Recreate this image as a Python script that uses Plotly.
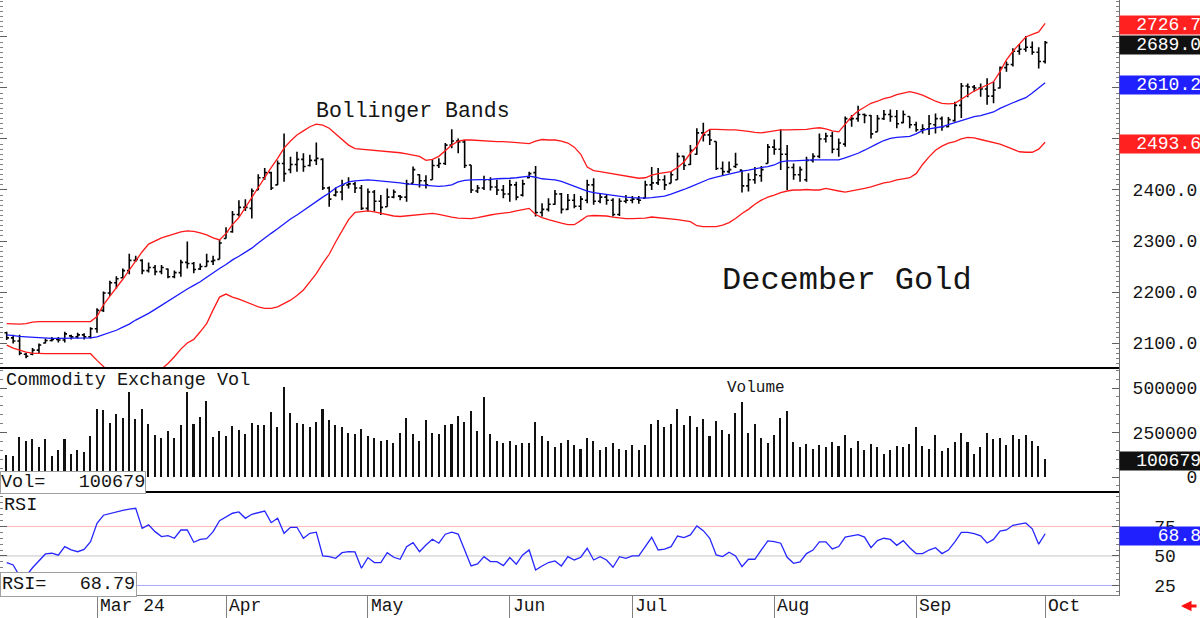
import plotly.graph_objects as go
import pandas as pd

# ---------------- data ----------------
holidays = ["2024-02-19", "2024-03-29", "2024-05-27", "2024-06-19", "2024-07-04", "2024-09-02"]
trade_days = [d for d in pd.bdate_range("2024-02-09", "2024-10-01")
              if d.strftime("%Y-%m-%d") not in holidays]
x_idx = list(range(len(trade_days)))

month_keys = ["2024-03", "2024-04", "2024-05", "2024-06", "2024-07", "2024-08", "2024-09", "2024-10"]
month_labels = ["Mar 24", "Apr", "May", "Jun", "Jul", "Aug", "Sep", "Oct"]

opens = [2120,2110,2104,2078,2078,2086,2100,2105,2107,2106,
         2114,2112,2116,2112,2128,2164,2198,2218,2228,2242,
         2262,2262,2242,2248,2240,2245,2230,2238,2258,2256,
         2245,2250,2260,2264,2305,2318,2352,2366,2364,2400,
         2424,2434,2410,2452,2440,2450,2460,2448,2458,2460,
         2404,2390,2396,2410,2412,2404,2364,2396,2378,2367,
         2386,2388,2386,2413,2430,2418,2420,2448,2452,2488,
         2496,2494,2449,2398,2404,2420,2406,2400,2392,2410,
         2390,2424,2434,2356,2362,2372,2392,2362,2380,2368,
         2380,2410,2378,2386,2380,2352,2378,2380,2382,2384,
         2410,2414,2420,2413,2420,2466,2450,2470,2512,2508,
         2495,2442,2436,2446,2439,2408,2420,2428,2452,2484,
         2480,2470,2444,2430,2420,2458,2466,2500,2506,2480,
         2490,2538,2540,2548,2546,2514,2540,2548,2544,2532,
         2544,2528,2518,2520,2528,2540,2524,2536,2566,2604,
         2602,2600,2598,2584,2600,2640,2646,2672,2676,2680,
         2670,2652]
highs = [2122,2116,2116,2081,2090,2099,2109,2112,2112,2122,
         2116,2120,2119,2131,2168,2201,2222,2231,2246,2275,
         2271,2264,2258,2253,2253,2246,2242,2263,2299,2259,
         2256,2275,2271,2303,2327,2359,2380,2382,2403,2431,
         2443,2436,2458,2511,2465,2475,2472,2469,2493,2462,
         2407,2405,2420,2425,2416,2410,2403,2400,2390,2403,
         2401,2390,2420,2446,2431,2429,2459,2462,2492,2519,
         2501,2498,2449,2410,2428,2425,2420,2410,2420,2416,
         2420,2436,2447,2374,2384,2400,2394,2392,2392,2388,
         2420,2423,2392,2392,2384,2384,2390,2388,2388,2418,
         2445,2443,2429,2436,2473,2467,2488,2521,2532,2519,
         2495,2456,2456,2473,2439,2433,2445,2447,2490,2499,
         2519,2488,2452,2446,2465,2472,2511,2512,2514,2501,
         2544,2547,2565,2550,2547,2547,2557,2558,2557,2556,
         2544,2534,2529,2547,2550,2544,2543,2573,2610,2609,
         2606,2609,2619,2612,2642,2652,2678,2686,2702,2691,
         2680,2692]
lows = [2106,2099,2076,2070,2076,2080,2099,2103,2101,2101,
        2107,2109,2107,2109,2120,2161,2192,2207,2227,2235,
        2259,2235,2238,2233,2235,2227,2227,2230,2246,2237,
        2243,2250,2253,2264,2305,2316,2348,2359,2344,2400,
        2420,2400,2410,2416,2433,2436,2436,2446,2449,2400,
        2367,2387,2380,2403,2394,2361,2358,2358,2351,2367,
        2384,2380,2377,2413,2405,2403,2420,2443,2449,2482,
        2472,2443,2394,2394,2400,2399,2390,2384,2377,2380,
        2387,2423,2348,2348,2358,2371,2354,2361,2364,2361,
        2374,2371,2374,2371,2348,2349,2374,2374,2373,2384,
        2400,2410,2400,2413,2420,2439,2449,2469,2495,2488,
        2439,2429,2433,2443,2395,2397,2412,2416,2452,2469,
        2439,2400,2420,2416,2416,2454,2462,2493,2472,2465,
        2485,2524,2534,2531,2501,2514,2537,2534,2521,2531,
        2521,2514,2511,2508,2511,2516,2523,2534,2541,2582,
        2593,2583,2567,2570,2599,2632,2642,2665,2671,2665,
        2638,2648]
closes = [2110,2104,2080,2074,2086,2096,2105,2107,2106,2118,
          2112,2116,2112,2128,2164,2198,2218,2226,2242,2262,
          2264,2242,2248,2240,2248,2230,2238,2258,2256,2244,
          2250,2260,2262,2296,2318,2352,2366,2366,2398,2424,
          2434,2404,2452,2432,2450,2460,2446,2458,2462,2404,
          2382,2396,2410,2412,2404,2364,2396,2378,2366,2386,
          2396,2386,2412,2440,2418,2410,2448,2452,2488,2496,
          2494,2448,2400,2404,2420,2406,2400,2392,2410,2386,
          2412,2432,2356,2362,2372,2392,2362,2380,2368,2382,
          2410,2378,2386,2380,2352,2378,2380,2382,2380,2410,
          2414,2420,2410,2430,2466,2448,2478,2512,2508,2498,
          2442,2436,2440,2450,2408,2420,2430,2440,2484,2480,
          2470,2444,2430,2440,2458,2466,2500,2506,2480,2492,
          2540,2540,2548,2546,2510,2540,2548,2544,2530,2548,
          2528,2518,2520,2530,2540,2524,2538,2566,2604,2602,
          2600,2598,2584,2596,2640,2646,2672,2676,2680,2670,
          2652,2689]

bb_mid = [2116,2114,2113,2112,2111,2110,2110,2109,2109,2109,
          2109,2110,2110,2110,2112,2116,2120,2125,2131,2137,
          2145,2151,2158,2166,2174,2182,2190,2199,2206,2213,
          2220,2229,2238,2246,2254,2263,2270,2278,2286,2296,
          2306,2315,2324,2334,2343,2351,2360,2368,2377,2386,
          2394,2404,2410,2416,2418,2419,2420,2419,2418,2417,
          2416,2414,2412,2411,2410,2408,2407,2407,2408,2410,
          2416,2419,2420,2420,2421,2421,2422,2422,2423,2424,
          2426,2427,2425,2422,2421,2420,2417,2412,2408,2403,
          2398,2395,2393,2391,2389,2387,2386,2385,2384,2384,
          2385,2386,2388,2392,2396,2401,2406,2411,2417,2422,
          2425,2428,2431,2435,2437,2439,2442,2444,2446,2449,
          2455,2457,2457,2458,2459,2459,2459,2459,2459,2459,
          2463,2467,2472,2478,2485,2491,2497,2501,2503,2504,
          2505,2510,2517,2520,2522,2524,2528,2532,2536,2540,
          2544,2546,2549,2553,2560,2566,2571,2576,2581,2590,
          2600,2610.2]
bb_upper = [2138,2137,2137,2138,2141,2142,2142,2142,2142,2142,
            2142,2142,2142,2142,2152,2175,2192,2208,2225,2243,
            2262,2279,2294,2300,2306,2310,2314,2318,2320,2319,
            2316,2312,2306,2302,2315,2332,2346,2366,2386,2406,
            2426,2444,2462,2482,2496,2508,2516,2524,2529,2527,
            2521,2510,2498,2488,2481,2480,2478,2477,2476,2475,
            2474,2473,2471,2469,2466,2458,2460,2466,2478,2488,
            2496,2498,2498,2497,2497,2496,2495,2495,2494,2493,
            2492,2491,2496,2499,2498,2498,2496,2492,2484,2470,
            2445,2438,2436,2434,2432,2430,2428,2425,2423,2424,
            2429,2432,2434,2436,2444,2455,2472,2486,2510,2519,
            2519,2518,2518,2518,2517,2515,2513,2512,2514,2516,
            2518,2518,2518,2518,2519,2521,2522,2520,2516,2514,
            2530,2544,2555,2563,2570,2574,2579,2582,2587,2590,
            2593,2590,2586,2580,2574,2570,2569,2570,2578,2586,
            2594,2600,2606,2612,2632,2655,2672,2686,2700,2705,
            2710,2726.7]
bb_lower = [2096,2090,2086,2082,2080,2079,2079,2079,2079,2079,
            2079,2079,2079,2079,2066,2054,2042,2034,2028,2022,
            2020,2020,2024,2034,2049,2060,2073,2088,2100,2107,
            2122,2138,2165,2190,2196,2190,2186,2181,2177,2171,
            2168,2168,2171,2178,2184,2193,2204,2220,2236,2256,
            2274,2298,2320,2342,2356,2358,2359,2357,2354,2351,
            2349,2348,2349,2350,2351,2353,2354,2352,2349,2347,
            2345,2344,2344,2346,2349,2351,2353,2354,2356,2359,
            2362,2364,2352,2346,2342,2338,2335,2332,2332,2340,
            2349,2350,2350,2349,2347,2345,2344,2344,2344,2345,
            2347,2346,2345,2344,2342,2340,2338,2330,2328,2328,
            2328,2331,2336,2344,2354,2362,2372,2380,2386,2390,
            2395,2398,2400,2400,2401,2400,2400,2403,2400,2398,
            2396,2398,2400,2403,2406,2410,2414,2416,2420,2422,
            2424,2432,2450,2465,2478,2486,2492,2495,2500,2503,
            2502,2499,2496,2493,2490,2485,2480,2475,2474,2474,
            2480,2493.6]

volume = [124000,120000,223000,202000,212000,167000,212000,120000,152000,215000,
          129000,152000,139000,232000,380000,376000,305000,354000,330000,479000,
          324000,380000,298000,236000,217000,260000,217000,290000,479000,296000,
          335000,429000,227000,260000,230000,287000,264000,242000,305000,292000,
          292000,363000,283000,507000,358000,305000,300000,280000,310000,380000,
          320000,290000,280000,250000,240000,270000,230000,220000,200000,210000,
          190000,250000,330000,240000,200000,320000,250000,240000,290000,300000,
          340000,310000,370000,260000,450000,240000,200000,190000,200000,180000,
          190000,190000,310000,230000,200000,170000,190000,210000,180000,160000,
          220000,200000,150000,170000,190000,160000,150000,180000,150000,180000,
          300000,320000,280000,300000,380000,290000,340000,280000,326000,230000,
          316000,264000,242000,361000,421000,249000,298000,221000,189000,236000,
          330000,371000,195000,170000,185000,157000,180000,167000,195000,174000,
          236000,163000,202000,152000,185000,170000,129000,152000,174000,170000,
          185000,283000,174000,157000,234000,146000,161000,198000,245000,195000,
          129000,167000,245000,212000,219000,180000,236000,212000,236000,202000,
          174000,100679]

rsi = [44.3,42.4,33.0,33.0,40.0,46.0,51.7,52.3,50.6,57.9,
       55.1,53.6,55.6,62.1,77.7,84.5,86.0,87.5,88.6,89.6,
       90.4,73.4,76.3,70.6,66.4,67.2,65.0,72.0,72.0,61.6,
       64.1,64.7,70.6,79.9,83.3,86.2,87.3,81.9,85.3,86.5,
       88.1,78.2,81.9,69.2,74.3,74.3,65.0,69.2,70.1,50.0,
       49.4,48.0,52.8,53.6,53.4,39.6,48.6,44.4,44.4,52.8,
       48.9,47.2,57.9,61.3,53.6,59.3,64.1,60.8,68.4,70.1,
       68.6,55.1,41.5,43.2,49.4,45.2,45.2,41.8,48.6,43.0,
       50.8,55.1,38.1,41.5,44.4,45.8,41.5,49.4,46.6,48.9,
       56.5,46.6,49.4,46.6,40.4,49.4,48.0,50.0,50.0,57.9,
       65.8,55.1,55.7,57.9,66.9,65.5,67.8,75.4,71.4,65.0,
       50.8,49.4,53.1,50.0,40.9,47.2,47.2,55.1,62.7,62.1,
       60.8,48.9,43.8,45.0,52.0,55.0,62.0,62.0,56.0,58.0,
       66.0,67.0,68.0,66.0,57.0,63.0,65.0,64.0,59.0,63.0,
       57.0,52.0,52.0,55.0,57.0,52.0,55.0,62.0,70.0,70.0,
       69.0,67.0,61.0,64.0,71.0,72.0,76.0,77.0,78.0,73.0,
       60.0,68.79]

price_ticks = [2100, 2200, 2300, 2400, 2500, 2600, 2700]
price_tick_text = ["2100.0", "2200.0", "2300.0", "2400.0", "", "", ""]  # upper ones hidden by value tags
vol_ticks = [0, 250000, 500000]
vol_tick_text = ["\u00a0\u00a0\u00a0\u00a0\u00a00", "250000", "500000"]
rsi_ticks = [25, 50, 75]
rsi_tick_text = ["\u00a0\u00a025", "\u00a0\u00a050", "\u00a0\u00a075"]

# ---------------- layout helpers ----------------
W, H = 1200, 618
MR, MB = 81, 23
PW, PH = W - MR, H - MB
FONT = "Liberation Mono"
TXT = "#151515"
AXFS = 18

def pxx(x):
    return x / PW

def pyy(y):
    return (PH - y) / PH

month_pos = [next(i for i, d in enumerate(trade_days) if d.strftime("%Y-%m") == k) for k in month_keys]

fig = go.Figure()
fig.add_trace(go.Scatter(x=x_idx, y=bb_upper, mode="lines", line=dict(color="#ff1a1a", width=1.3),
                         hoverinfo="skip", xaxis="x", yaxis="y"))
fig.add_trace(go.Scatter(x=x_idx, y=bb_lower, mode="lines", line=dict(color="#ff1a1a", width=1.3),
                         hoverinfo="skip", xaxis="x", yaxis="y"))
fig.add_trace(go.Scatter(x=x_idx, y=bb_mid, mode="lines", line=dict(color="#1a1aff", width=1.3),
                         hoverinfo="skip", xaxis="x", yaxis="y"))
fig.add_trace(go.Ohlc(x=x_idx, open=opens, high=highs, low=lows, close=closes,
                      increasing=dict(line=dict(color="#000000", width=1.6)),
                      decreasing=dict(line=dict(color="#000000", width=1.6)),
                      tickwidth=0.35, xaxis="x", yaxis="y"))
fig.add_trace(go.Bar(x=x_idx, y=volume, marker=dict(color="#111111", line=dict(width=0)),
                     width=0.24, xaxis="x", yaxis="y2"))
fig.add_trace(go.Scatter(x=x_idx, y=rsi, mode="lines", line=dict(color="#2626ff", width=1.3),
                         hoverinfo="skip", xaxis="x", yaxis="y3"))

tickfont = dict(family=FONT, size=AXFS, color=TXT)
common_y = dict(side="right", anchor="x", showgrid=False, zeroline=False, showline=True,
                linecolor="#707070", linewidth=1, mirror="ticks", ticks="inside", ticklen=7,
                tickcolor="#606060", tickfont=tickfont, ticklabelstandoff=9, automargin=False)

fig.update_layout(
    width=W, height=H, margin=dict(l=0, r=MR, t=0, b=MB, autoexpand=False),
    paper_bgcolor="white", plot_bgcolor="white", showlegend=False, bargap=0,
    xaxis=dict(domain=[0, 1], range=[-1.04, 172.45], anchor="y3", showgrid=False, zeroline=False,
               tickmode="array", tickvals=month_pos, showticklabels=False, ticks="outside",
               ticklen=23, tickcolor="#808080", showline=True, linecolor="#808080",
               automargin=False, rangeslider=dict(visible=False)),
    yaxis=dict(domain=[pyy(368), 1], range=[2051, 2772.5], tickmode="array", tickvals=price_ticks,
               ticktext=price_tick_text,
               minor=dict(tick0=2100, dtick=10, ticks="inside", ticklen=3, tickcolor="#808080"),
               **common_y),
    yaxis2=dict(domain=[pyy(492), pyy(368)], range=[-84300, 612400], tickmode="array",
                tickvals=vol_ticks, ticktext=vol_tick_text,
                minor=dict(tick0=0, dtick=50000, ticks="inside", ticklen=3, tickcolor="#808080"),
                **common_y),
    yaxis3=dict(domain=[0, pyy(492)], range=[16.9, 104.2], tickmode="array",
                tickvals=rsi_ticks, ticktext=rsi_tick_text,
                minor=dict(tick0=0, dtick=5, ticks="inside", ticklen=3, tickcolor="#808080"),
                **common_y),
)

shapes = []
for val, col in zip(rsi_ticks, ["#a8a8ff", "#c4c4c4", "#ffb8b8"]):
    shapes.append(dict(type="line", xref="paper", yref="y3", x0=0, x1=1, y0=val, y1=val,
                       line=dict(color=col, width=1), layer="below"))
for yy in (368, 492):
    shapes.append(dict(type="line", xref="paper", yref="paper", x0=0, x1=1,
                       y0=pyy(yy), y1=pyy(yy), line=dict(color="#000000", width=2)))
fig.update_layout(shapes=shapes)

ann = []
# month labels
for pos, lab in zip(month_pos, month_labels):
    ann.append(dict(x=pos, y=pyy(606), xref="x", yref="paper", text=lab, showarrow=False,
                    xanchor="left", yanchor="middle", xshift=1, font=dict(family=FONT, size=AXFS, color=TXT)))

def label(x, y, text, size, anchor="center"):
    return dict(x=pxx(x), y=pyy(y), xref="paper", yref="paper", text=text, showarrow=False,
                xanchor=anchor, yanchor="middle", font=dict(family=FONT, size=size, color=TXT))

ann.append(label(413, 111, "Bollinger Bands", 21.5))
ann.append(label(847, 280, "December Gold", 32))
ann.append(label(756, 388, "Volume", 16))
ann.append(label(4, 381, "Commodity Exchange Vol", 18.5, "left"))
ann.append(label(2, 505, "RSI", 18.5, "left"))
# value boxes at lower left
ann.append(dict(x=0, y=pyy(482), xref="paper", yref="paper",
                text=f"Vol=\u00a0\u00a0\u00a0{volume[-1]}", showarrow=False, xanchor="left",
                yanchor="middle", bgcolor="white", bordercolor="#a0a0a0", borderwidth=1, borderpad=0,
                font=dict(family=FONT, size=18.5, color=TXT)))
ann.append(dict(x=0, y=pyy(584), xref="paper", yref="paper",
                text=f"RSI=\u00a0\u00a0\u00a0{rsi[-1]:.2f}", showarrow=False, xanchor="left",
                yanchor="middle", bgcolor="white", bordercolor="#a0a0a0", borderwidth=1, borderpad=1,
                font=dict(family=FONT, size=18.5, color=TXT)))

# right-side value tags
def tag(val, yref, text, col):
    return dict(x=1, y=val, xref="paper", yref=yref, text=text, showarrow=False,
                xanchor="left", yanchor="middle", yshift=-2, width=81, height=18, align="right",
                bgcolor=col, borderpad=0, font=dict(family=FONT, size=AXFS, color="white"))

ann.append(tag(bb_upper[-1], "y", f"{bb_upper[-1]:.1f}", "#ff2020"))
ann.append(tag(closes[-1], "y", f"{closes[-1]:.1f}", "#111111"))
ann.append(tag(bb_mid[-1], "y", f"{bb_mid[-1]:.1f}", "#2020ff"))
ann.append(tag(bb_lower[-1], "y", f"{bb_lower[-1]:.1f}", "#ff2020"))
ann.append(tag(volume[-1], "y2", f"{volume[-1]}", "#111111"))
ann.append(tag(rsi[-1], "y3", f"{rsi[-1]:.1f}", "#2020ff"))
# red arrow bottom right
ann.append(dict(x=pxx(1181), y=pyy(606), xref="paper", yref="paper", ax=17, ay=0, text="",
                showarrow=True, arrowhead=2, arrowsize=0.7, arrowwidth=3, arrowcolor="#ff1010"))
fig.update_layout(annotations=ann)

fig.write_html("out.html")
